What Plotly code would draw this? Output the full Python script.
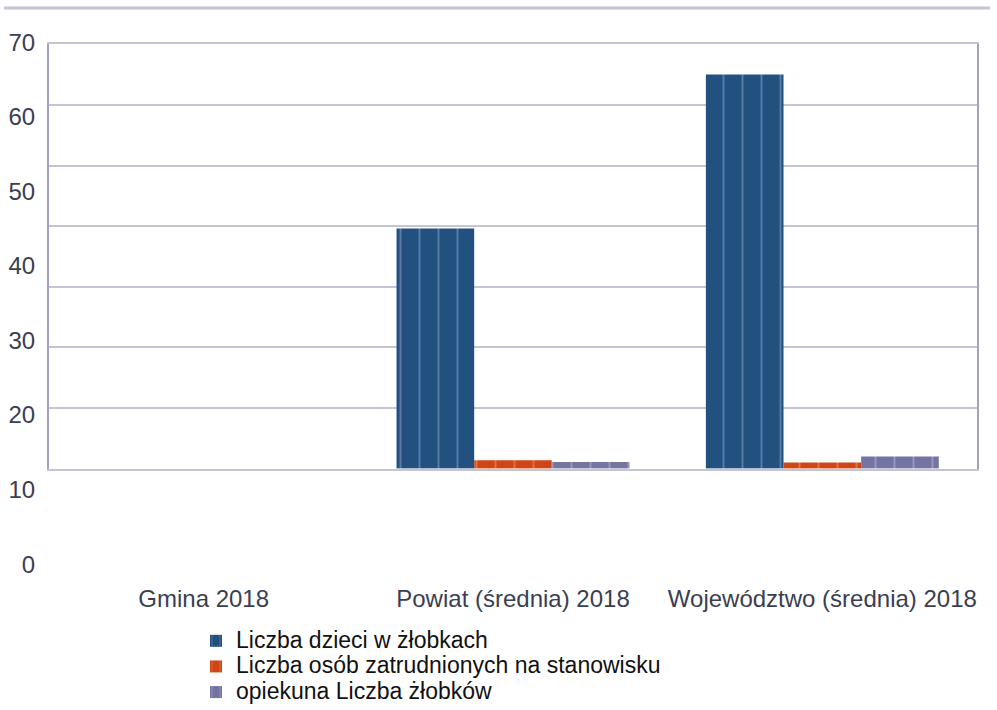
import plotly.graph_objects as go

categories = ["Gmina 2018", "Powiat (średnia) 2018", "Województwo (średnia) 2018"]
series_names = ["Liczba dzieci w żłobkach",
                "Liczba osób zatrudnionych na stanowisku",
                "opiekuna Liczba żłobków"]
dzieci = [None, 39.6, 65.0]
osoby = [None, 1.4, 1.0]
zlobki = [None, 1.1, 2.0]
y_tick_values = [0, 10, 20, 30, 40, 50, 60, 70]

W, H = 997, 710
FONT = "Liberation Sans, Arial, sans-serif"
TICK_COLOR = "#3b3e52"
GRID = "#c4c4d4"

def px_x(p):
    return p / W

def px_y(p):
    return 1 - p / H

fig = go.Figure()
colors = ["#22507f", "#d04515", "#7474a2"]
fg = ["#8eaccb", "#f0a080", "#babad3"]
for name, vals, c, f in zip(series_names, [dzieci, osoby, zlobki], colors, fg):
    fig.add_trace(go.Bar(
        x=categories, y=vals, name=f'<span style="font-size:23px">{name}</span>',
        marker=dict(color=c, line=dict(width=0),
                    pattern=dict(shape="|", fgcolor=f, size=19, solidity=0.1)),
        hoverinfo="skip"))

# helper trace (no visible points) so the separate label axis is drawn
fig.add_trace(go.Scatter(x=[None], y=[None], xaxis="x2", yaxis="y2",
                         mode="markers", showlegend=False, hoverinfo="skip"))

fig.update_layout(
    width=W, height=H, autosize=False,
    margin=dict(l=0, r=0, t=0, b=0),
    paper_bgcolor="white", plot_bgcolor="rgba(0,0,0,0)",
    font=dict(family=FONT, color=TICK_COLOR),
    barmode="group", bargap=0.247, bargroupgap=0,
    xaxis=dict(domain=[px_x(49), px_x(977)], showgrid=False, zeroline=False,
               showline=True, mirror=True, linecolor=GRID, linewidth=2,
               ticks="outside", ticklen=108,
               tickcolor="rgba(0,0,0,0)", automargin=False,
               tickfont=dict(size=24, color=TICK_COLOR)),
    yaxis=dict(domain=[px_y(476), px_y(45)], range=[0, 70], dtick=10,
               showgrid=True, gridcolor=GRID, gridwidth=2,
               zeroline=False, showline=True, mirror=True,
               linecolor="#a2a2c0", linewidth=1.5,
               showticklabels=False, ticks="", automargin=False),
    xaxis2=dict(domain=[px_x(49), px_x(977)], anchor="y2", visible=False,
                range=[0, 1]),
    yaxis2=dict(domain=[px_y(573), px_y(43)], range=[0, 70], anchor="x2",
                tickvals=y_tick_values, ticktext=[str(v) for v in y_tick_values],
                showgrid=False, zeroline=False, showline=False,
                ticks="outside", ticklen=8,
                tickcolor="rgba(0,0,0,0)", automargin=False,
                tickfont=dict(size=24, color=TICK_COLOR)),
    legend=dict(x=px_x(196), y=px_y(633), xanchor="left", yanchor="top",
                orientation="v", font=dict(size=17.4, color="#111111", family=FONT),
                bgcolor="rgba(0,0,0,0)", tracegroupgap=0, traceorder="normal"),
    shapes=[dict(type="line", xref="paper", yref="paper",
                 x0=px_x(4), x1=px_x(990), y0=px_y(8), y1=px_y(8),
                 line=dict(color="#c4c4d4", width=3))],
)

fig.write_html("out.html", config={"displayModeBar": False},
               post_script="document.body.style.margin='0';")
